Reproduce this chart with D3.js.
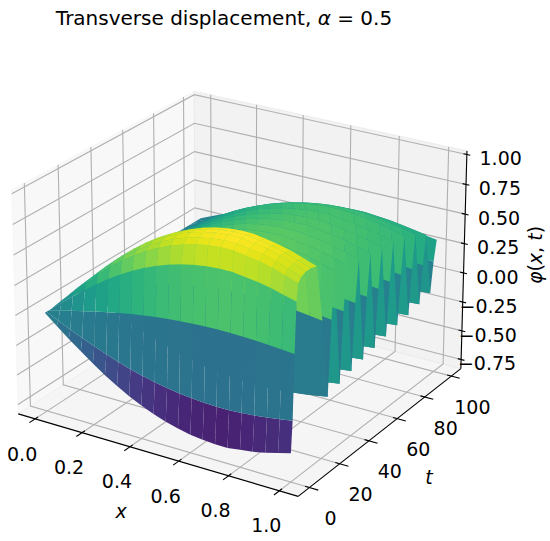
<!DOCTYPE html>
<html>
<head>
<meta charset="utf-8">
<script src="https://cdnjs.cloudflare.com/ajax/libs/d3/7.8.5/d3.min.js"></script>
<style>
  body { margin: 0; background: #fff; }
  text { font-family: "DejaVu Sans", sans-serif; }
</style>
</head>
<body>
<svg id="chart" width="550" height="541"></svg>
<script>
// surface: spatial shape along x, amplitude per time row
const xs = [0, 0.05, 0.1, 0.15, 0.2, 0.25, 0.3, 0.35, 0.4, 0.45, 0.5, 0.55, 0.6, 0.65, 0.7, 0.75, 0.8, 0.85, 0.9, 0.95, 1.0];
const modeShape = [0, 0.12, 0.235, 0.345, 0.45, 0.55, 0.64, 0.72, 0.79, 0.85, 0.9, 0.94, 0.97, 0.99, 1.0, 1.0, 0.98, 0.96, 0.93, 0.89, 0.85];
const ts = [0, 1, 2, 3, 4, 6, 9, 12, 16, 20,
  24, 26, 28, 32, 34, 36, 40, 42, 44, 48, 50, 52, 56, 58, 60,
  64, 66, 68, 72, 74, 76, 80, 82, 84, 88, 90, 92, 96, 98, 100];
const amplitude = [-0.70, -0.40, 0.22, 0.70, 0.86, 0.90, 0.92, 0.92, 0.90, 0.35,
  -0.42, 0.30, 0.74, -0.38, 0.30, 0.72, -0.34, 0.30, 0.70, -0.31, 0.28, 0.68, -0.28, 0.28, 0.66,
  -0.25, 0.27, 0.64, -0.22, 0.26, 0.62, -0.20, 0.24, 0.56, -0.17, 0.20, 0.48, -0.14, 0.16, 0.36];

const xTicks = [0, 0.2, 0.4, 0.6, 0.8, 1.0];
const tTicks = [0, 20, 40, 60, 80, 100];
const zTicks = [-0.75, -0.5, -0.25, 0, 0.25, 0.5, 0.75, 1.0];
const xTickLabels = ['0.0', '0.2', '0.4', '0.6', '0.8', '1.0'];
const tTickLabels = ['0', '20', '40', '60', '80', '100'];
const zTickLabels = ['\u22120.75', '\u22120.50', '\u22120.25', '0.00', '0.25', '0.50', '0.75', '1.00'];

const xLim = [-0.073, 1.073], tLim = [-7.3, 107.3], zLim = [-0.83, 1.03];

// camera: elev, azim, distance, z box ratio, screen scales and centre
const camera = [21.896, -58.0, 8.877, 0.668, 325.647, 356.177, 243.174, 282.033];

const svg = d3.select('#chart');
const xn = d3.scaleLinear().domain(xLim).range([0, 1]);
const tn = d3.scaleLinear().domain(tLim).range([0, 1]);
const zn = d3.scaleLinear().domain(zLim).range([0, 1]);

function makeProj(p) {
  const [elev, azim, dist, zr, kx, ky, cx, cy] = p;
  const e = elev * Math.PI / 180, a = azim * Math.PI / 180;
  const n = [Math.cos(e) * Math.cos(a), Math.cos(e) * Math.sin(a), Math.sin(e)];
  const u = [-Math.sin(a), Math.cos(a), 0];
  const v = [-Math.sin(e) * Math.cos(a), -Math.sin(e) * Math.sin(a), Math.cos(e)];
  return (x, t, z) => {
    const d = [xn(x) - 0.5, tn(t) - 0.5, (zn(z) - 0.5) * zr];
    const X = u[0] * d[0] + u[1] * d[1];
    const Y = v[0] * d[0] + v[1] * d[1] + v[2] * d[2];
    const D = dist - (n[0] * d[0] + n[1] * d[1] + n[2] * d[2]);
    return [cx + kx * X * dist / D, cy - ky * Y * dist / D, D];
  };
}
const proj = makeProj(camera);
const [x0, x1] = xLim, [t0, t1] = tLim, [z0, z1] = zLim;
const line = d3.line();

// panes
const panes = [
  { pts: [[x0, t0, z0], [x0, t1, z0], [x0, t1, z1], [x0, t0, z1]], fill: '#f2f2f2' },
  { pts: [[x0, t1, z0], [x1, t1, z0], [x1, t1, z1], [x0, t1, z1]], fill: '#e6e6e6' },
  { pts: [[x0, t0, z0], [x1, t0, z0], [x1, t1, z0], [x0, t1, z0]], fill: '#ececec' }
];
svg.append('g').selectAll('path').data(panes).enter().append('path')
  .attr('d', d => line(d.pts.map(q => proj(...q))) + 'Z')
  .attr('fill', d => d.fill).attr('fill-opacity', 0.5)
  .attr('stroke', d => d.fill).attr('stroke-opacity', 0.5);

// grid
const grid = [];
xTicks.forEach(x => grid.push([[x, t0, z0], [x, t1, z0], [x, t1, z1]]));
tTicks.forEach(t => grid.push([[x1, t, z0], [x0, t, z0], [x0, t, z1]]));
zTicks.forEach(z => grid.push([[x0, t0, z], [x0, t1, z], [x1, t1, z]]));
svg.append('g').selectAll('path').data(grid).enter().append('path')
  .attr('d', d => line(d.map(q => proj(...q))))
  .attr('fill', 'none').attr('stroke', '#b0b0b0').attr('stroke-width', 1.1);

// axes
const axG = svg.append('g').attr('stroke', '#000').attr('stroke-width', 1.1);
const seg = (a, b) => axG.append('path').attr('d', line([proj(...a), proj(...b)]));
seg([x0, t0, z0], [x1, t0, z0]);
seg([x1, t0, z0], [x1, t1, z0]);
seg([x1, t1, z0], [x1, t1, z1]);
const dt = t1 - t0, dx = x1 - x0;
xTicks.forEach(x => seg([x, t0 + 0.015 * dt, z0], [x, t0 - 0.03 * dt, z0]));
tTicks.forEach(t => seg([x1 - 0.015 * dx, t, z0], [x1 + 0.03 * dx, t, z0]));
zTicks.forEach(z => seg([x1 - 0.012 * dx, t1, z], [x1 + 0.012 * dx, t1, z]));

const txt = svg.append('g').attr('font-size', 19).attr('fill', '#000');
xTicks.forEach((x, i) => {
  const p = proj(x, t0, z0);
  txt.append('text').attr('x', p[0] - 13).attr('y', p[1] + 35).attr('dy', '0.35em')
    .attr('text-anchor', 'middle').text(xTickLabels[i]);
});
tTicks.forEach((t, i) => {
  const p = proj(x1, t, z0);
  txt.append('text').attr('x', p[0] + 21).attr('y', p[1] + 31).attr('dy', '0.35em')
    .attr('text-anchor', 'middle').text(tTickLabels[i]);
});
zTicks.forEach((z, i) => {
  const p = proj(x1, t1, z);
  txt.append('text').attr('x', p[0] + 55).attr('y', p[1] + 4).attr('dy', '0.35em')
    .attr('text-anchor', 'end').text(zTickLabels[i]);
});
txt.append('text').attr('x', 121).attr('y', 511).attr('dy', '0.35em').attr('text-anchor', 'middle')
  .attr('font-style', 'italic').text('x');
txt.append('text').attr('x', 429).attr('y', 477).attr('dy', '0.35em').attr('text-anchor', 'middle')
  .attr('font-style', 'italic').text('t');
const zl = txt.append('text').attr('transform', 'translate(535,255) rotate(-90)').attr('dy', '0.35em')
  .attr('text-anchor', 'middle');
zl.append('tspan').attr('font-style', 'italic').text('\u03c6');
zl.append('tspan').text('(');
zl.append('tspan').attr('font-style', 'italic').text('x');
zl.append('tspan').text(', ');
zl.append('tspan').attr('font-style', 'italic').text('t');
zl.append('tspan').text(')');

const title = svg.append('text').attr('x', 224).attr('y', 25).attr('text-anchor', 'middle').attr('font-size', 20);
title.append('tspan').text('Transverse displacement, ');
title.append('tspan').attr('font-style', 'italic').text('\u03b1');
title.append('tspan').text(' = 0.5');

// surface table from the two read series
const phi = ts.map((t, j) => xs.map((x, i) => modeShape[i] * amplitude[j]));
const flat = phi.flat();
const color = d3.scaleSequential(d3.interpolateViridis).domain([d3.min(flat), d3.max(flat)]);
const quads = [];
for (let j = 0; j < ts.length - 1; j++) {
  for (let i = 0; i < xs.length - 1; i++) {
    const v = [[i, j], [i + 1, j], [i + 1, j + 1], [i, j + 1]].map(([a, b]) => [xs[a], ts[b], phi[b][a]]);
    const p = v.map(q => proj(...q));
    quads.push({ p, depth: d3.mean(p, q => q[2]), z: d3.mean(v, q => q[2]) });
  }
}
quads.sort((a, b) => b.depth - a.depth);
svg.append('g').selectAll('path').data(quads).enter().append('path')
  .attr('d', d => line(d.p.map(q => [q[0], q[1]])) + 'Z')
  .attr('fill', d => color(d.z));
</script>
</body>
</html>
